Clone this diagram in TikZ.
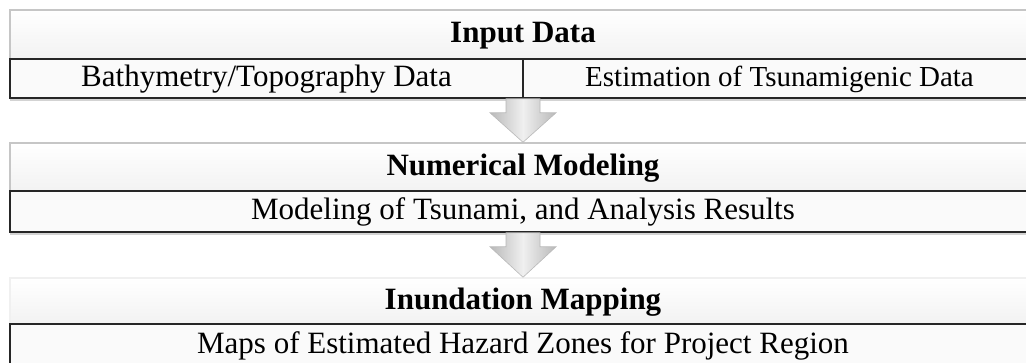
\documentclass[tikz,border=0pt]{standalone}
\usepackage{fontspec}
\setmainfont{Liberation Serif}
\usetikzlibrary{calc,shadows}

\begin{document}
\begin{tikzpicture}[x=1pt,y=-1pt,
		head/.style={rectangle,draw=gray!45,line width=1.5pt,top color=white,bottom color=gray!10,minimum width=1026pt,inner sep=0pt,text height=21pt,text depth=4pt,font=\fontsize{31}{37}\selectfont\bfseries},
		row/.style={rectangle,draw=black!85,line width=1.6pt,fill=gray!4,inner sep=0pt,text height=21pt,text depth=4pt,font=\fontsize{31}{37}\selectfont,drop shadow={shadow xshift=0pt,shadow yshift=-3pt,opacity=.35}},
		blockarrow/.style={draw=gray!55,line width=.6pt,left color=gray!55,right color=gray!55,middle color=gray!12}]
		\useasboundingbox (0,0) rectangle (1026,363);
		\node[head,minimum height=49pt] (head1) at (523,34.5) {Input Data};
		\node[row,minimum width=513pt,minimum height=39pt] (bath) at (266.5,78.5) {Bathymetry/Topography Data};
		\node[row,minimum width=513pt,minimum height=39pt,font=\fontsize{29}{35}\selectfont] (est) at (779.5,78.5) {Estimation of Tsunamigenic Data};
		\node[head,minimum height=48pt] (head2) at (523,167) {Numerical Modeling};
		\node[row,minimum width=1026pt,minimum height=41pt] (model) at (523,211.5) {Modeling of Tsunami, and Analysis Results};
		\node[head,draw=gray!12,minimum height=46pt] (head3) at (523,301) {Inundation Mapping};
		\node[row,minimum width=1026pt,minimum height=42pt] (maps) at (523,345) {Maps of Estimated Hazard Zones for Project Region};
		\foreach \a/\b in {est/head2,model/head3}
		\draw[blockarrow] ($(\a.south -| \b.north)+(-17,0)$) -- ++(0,14) -- ++(-16,0) -- (\b.north) -- ($(\a.south -| \b.north)+(33,14)$) -- ++(-16,0) -- ++(0,-14) -- cycle;
	\end{tikzpicture}
\end{document}
